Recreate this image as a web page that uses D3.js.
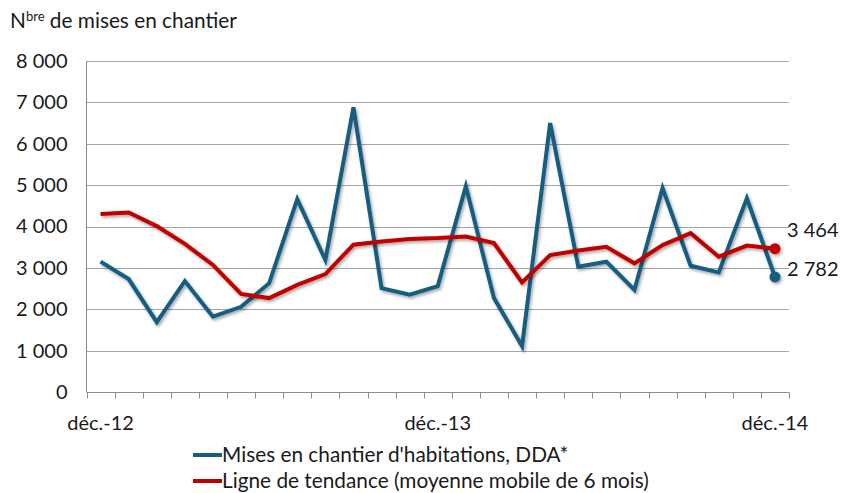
<!DOCTYPE html>
<html>
<head>
<meta charset="utf-8">
<script src="https://cdn.jsdelivr.net/npm/d3@7"></script>
<style>
  body { margin: 0; background: #fff; }
  text { font-family: "Lato", "Open Sans", sans-serif; fill: #1a1a1a; }
</style>
</head>
<body>
<svg width="841" height="493"></svg>
<script>
// months déc.-12 .. déc.-14
var months = ["déc.-12","janv.-13","févr.-13","mars-13","avr.-13","mai-13","juin-13","juil.-13","août-13","sept.-13","oct.-13","nov.-13",
              "déc.-13","janv.-14","févr.-14","mars-14","avr.-14","mai-14","juin-14","juil.-14","août-14","sept.-14","oct.-14","nov.-14","déc.-14"];
var shownLabels = ["déc.-12","déc.-13","déc.-14"];

var mises = [3150, 2730, 1690, 2680, 1820, 2060, 2630, 4660, 3190, 6880, 2510, 2350, 2560,
             4970, 2270, 1110, 6500, 3030, 3150, 2470, 4930, 3050, 2890, 4680, 2782];
var tendance = [4300, 4340, 4010, 3580, 3070, 2370, 2270, 2590, 2850, 3560, 3640, 3700, 3720,
                3760, 3600, 2650, 3310, 3420, 3510, 3110, 3550, 3840, 3270, 3540, 3464];

var yTicks = [0, 1000, 2000, 3000, 4000, 5000, 6000, 7000, 8000];
var seriesNames = ["Mises en chantier d'habitations, DDA*", "Ligne de tendance (moyenne mobile de 6 mois)"];
var colors = ["#165d82", "#c00000"];

var svg = d3.select('svg'),
    plotLeft = 86.5, plotRight = 789, plotTop = 61, plotBottom = 392;
var fs = '20px', fsBig = '20.8px';

var fmt = function(v) { return d3.format(",")(v).replace(/,/g, " "); };

var xScale = d3.scaleBand().domain(months).range([plotLeft, plotRight]);
var yScale = d3.scaleLinear().domain([0, 8000]).range([plotBottom, plotTop]);

var defs = svg.append('defs');
var f = defs.append('filter').attr('id', 'shadow').attr('x', '-10%').attr('y', '-10%').attr('width', '120%').attr('height', '130%');
f.append('feDropShadow').attr('dx', 1.5).attr('dy', 2).attr('stdDeviation', 1.5)
  .attr('flood-color', '#000').attr('flood-opacity', 0.35);

// title
var title = svg.append('text').attr('x', 10).attr('y', 28).style('font-size', fsBig);
title.append('tspan').text('N');
title.append('tspan').attr('dy', -7).style('font-size', '13px').text('bre');
title.append('tspan').attr('dy', 7).text(' de mises en chantier');

// grid
svg.append('g').selectAll('line').data(yTicks.slice(1)).enter().append('line')
  .attr('x1', plotLeft).attr('x2', plotRight)
  .attr('y1', function(d) { return Math.round(yScale(d)) + 0.5; })
  .attr('y2', function(d) { return Math.round(yScale(d)) + 0.5; })
  .attr('stroke', '#a6a6a6').attr('stroke-width', 1);

// y axis
var yAxis = svg.append('g').attr('transform', 'translate(' + plotLeft + ',0)')
  .call(d3.axisLeft(yScale).tickValues(yTicks).tickSize(0).tickPadding(19).tickFormat(fmt));
yAxis.select('.domain').attr('stroke', '#8c8c8c').attr('d', 'M0,' + plotTop + 'V' + plotBottom);
yAxis.selectAll('text').style('font-size', fs).attr('fill', '#1a1a1a')
  .style('font-family', '"Lato", sans-serif');

// x axis
var xAxis = svg.append('g').attr('transform', 'translate(0,' + (plotBottom + 0.5) + ')');
xAxis.append('line').attr('x1', plotLeft).attr('x2', plotRight).attr('stroke', '#8c8c8c');
xAxis.selectAll('line.tk').data(months.concat(['end'])).enter().append('line').attr('class', 'tk')
  .attr('x1', function(d, i) { return Math.round(plotLeft + i * xScale.step()) + 0.5; })
  .attr('x2', function(d, i) { return Math.round(plotLeft + i * xScale.step()) + 0.5; })
  .attr('y1', 0).attr('y2', 6).attr('stroke', '#8c8c8c');
xAxis.selectAll('text').data(shownLabels).enter().append('text')
  .attr('x', function(d) { return xScale(d) + xScale.bandwidth() / 2; })
  .attr('y', 37).attr('text-anchor', 'middle').style('font-size', fs).text(function(d) { return d; });

var line = d3.line()
  .x(function(d, i) { return xScale(months[i]) + xScale.bandwidth() / 2; })
  .y(function(d) { return yScale(d); });

[mises, tendance].forEach(function(s, k) {
  var g = svg.append('g').attr('filter', 'url(#shadow)');
  g.append('path').datum(s).attr('d', line).attr('fill', 'none')
    .attr('stroke', colors[k]).attr('stroke-width', 4).attr('stroke-linejoin', 'miter');
  var last = s.length - 1;
  g.append('circle').attr('cx', xScale(months[last]) + xScale.bandwidth() / 2)
    .attr('cy', yScale(s[last])).attr('r', 5.5).attr('fill', colors[k]);
});

// end labels
svg.append('text').attr('x', 787).attr('y', 237).style('font-size', fs).text(fmt(tendance[tendance.length - 1]));
svg.append('text').attr('x', 787).attr('y', 276).style('font-size', fs).text(fmt(mises[mises.length - 1]));

// legend
var leg = svg.append('g');
seriesNames.forEach(function(n, i) {
  var y = 455 + i * 26;
  leg.append('line').attr('x1', 193).attr('x2', 222).attr('y1', y).attr('y2', y)
    .attr('stroke', colors[i]).attr('stroke-width', 4);
  leg.append('text').attr('x', 222).attr('y', y + 7).style('font-size', fsBig).text(n);
});
</script>
</body>
</html>
